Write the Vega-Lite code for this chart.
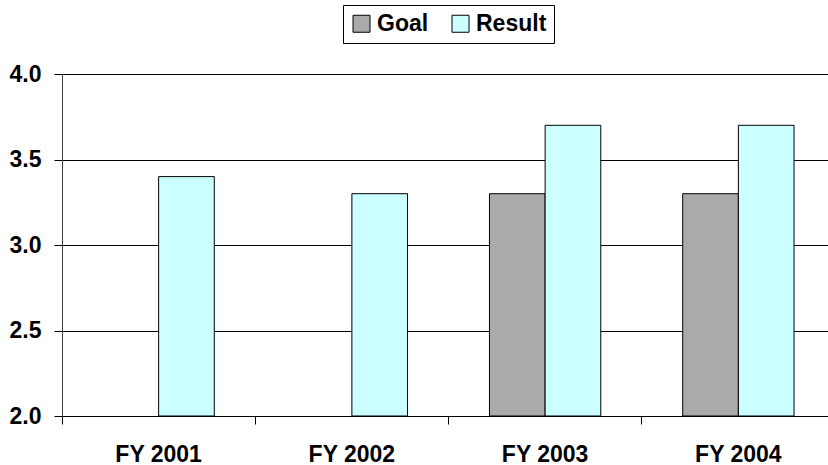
{
  "$schema": "https://vega.github.io/schema/vega-lite/v6.json",
  "width": 773,
  "height": 342,
  "autosize": {"type": "none"},
  "padding": {"left": 62, "top": 74, "right": 0, "bottom": 49},
  "background": "white",
  "data": {
    "values": [
      {"year": "FY 2001", "series": "Result", "value": 3.4},
      {"year": "FY 2002", "series": "Result", "value": 3.3},
      {"year": "FY 2003", "series": "Goal", "value": 3.3},
      {"year": "FY 2003", "series": "Result", "value": 3.7},
      {"year": "FY 2004", "series": "Goal", "value": 3.3},
      {"year": "FY 2004", "series": "Result", "value": 3.7}
    ]
  },
  "mark": {"type": "bar", "stroke": "black", "strokeWidth": 1},
  "encoding": {
    "x": {
      "field": "year",
      "type": "nominal",
      "sort": ["FY 2001", "FY 2002", "FY 2003", "FY 2004"],
      "scale": {"paddingInner": 0, "paddingOuter": 0},
      "axis": {
        "title": null,
        "labelAngle": 0,
        "bandPosition": 0,
        "tickSize": 8,
        "tickColor": "black",
        "domainColor": "black",
        "labelPadding": 19,
        "labelFont": "Liberation Sans",
        "labelFontWeight": "bold",
        "labelFontSize": 23,
        "labelColor": "black"
      }
    },
    "xOffset": {
      "field": "series",
      "scale": {"domain": ["Goal", "Result"], "paddingInner": 0, "paddingOuter": 0.736}
    },
    "y": {
      "field": "value",
      "type": "quantitative",
      "scale": {"domain": [2, 4], "zero": false, "nice": false},
      "axis": {
        "title": null,
        "values": [2, 2.5, 3, 3.5, 4],
        "format": ".1f",
        "grid": true,
        "gridColor": "black",
        "gridOpacity": 1,
        "tickSize": 8,
        "tickColor": "black",
        "domainColor": "#404040",
        "labelPadding": 13,
        "labelFont": "Liberation Sans",
        "labelFontWeight": "bold",
        "labelFontSize": 23,
        "labelColor": "black"
      }
    },
    "y2": {"datum": 2},
    "color": {
      "field": "series",
      "type": "nominal",
      "scale": {"domain": ["Goal", "Result"], "range": ["#aaaaaa", "#ccffff"]},
      "legend": {
        "title": null,
        "orient": "none",
        "legendX": 281,
        "legendY": -69,
        "direction": "horizontal",
        "strokeColor": "black",
        "padding": 7,
        "symbolType": "square",
        "symbolSize": 289,
        "symbolStrokeColor": "black",
        "symbolStrokeWidth": 1,
        "symbolOpacity": 1,
        "labelFont": "Liberation Sans",
        "labelFontWeight": "bold",
        "labelFontSize": 23,
        "labelColor": "black",
        "columnPadding": 20,
        "labelOffset": 4
      }
    }
  },
  "config": {"view": {"stroke": null}}
}
